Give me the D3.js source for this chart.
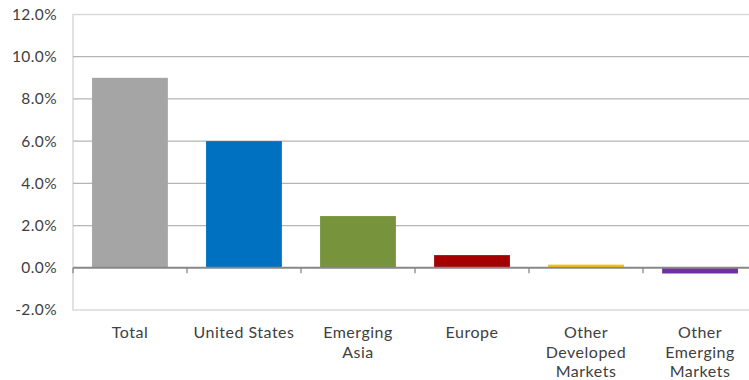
<!DOCTYPE html>
<html>
<head>
<meta charset="utf-8">
<script src="https://cdn.jsdelivr.net/npm/d3@7"></script>
<style>
  html, body { margin: 0; padding: 0; background: #fff; }
  svg { display: block; }
  text { font-family: "Lato", "Open Sans", sans-serif; fill: #404040; }
</style>
</head>
<body>
<svg id="chart" width="749" height="380"></svg>
<script>
// Contribution by region (percent)
const categories = ["Total", "United States", "Emerging Asia", "Europe", "Other Developed Markets", "Other Emerging Markets"];
const labelLines = [["Total"], ["United States"], ["Emerging", "Asia"], ["Europe"], ["Other", "Developed", "Markets"], ["Other", "Emerging", "Markets"]];
const values = [9.0, 6.0, 2.45, 0.6, 0.15, -0.27];
const colors = ["#a5a5a5", "#0070c0", "#77933c", "#a50000", "#ffc000", "#7030a0"];
const yTicks = [-2, 0, 2, 4, 6, 8, 10, 12];

const svg = d3.select("#chart");
const plotLeft = 73, plotRight = 757, plotTop = 14.5, plotBottom = 310;

const x = d3.scaleBand().domain(categories).range([plotLeft, plotRight]).paddingInner(0.335).paddingOuter(0.167);
const band = d3.scaleBand().domain(categories).range([plotLeft, plotRight]);
const y = d3.scaleLinear().domain([-2, 12]).range([plotBottom, plotTop]);

// plot area border
svg.append("rect")
  .attr("x", plotLeft).attr("y", plotTop)
  .attr("width", plotRight - plotLeft).attr("height", plotBottom - plotTop)
  .attr("fill", "none").attr("stroke", "#d9d9d9").attr("stroke-width", 1.5);

// horizontal gridlines
svg.append("g").selectAll("line")
  .data(yTicks.filter(t => t !== 0 && t !== 12 && t !== -2))
  .join("line")
  .attr("x1", plotLeft).attr("x2", plotRight)
  .attr("y1", d => y(d)).attr("y2", d => y(d))
  .attr("stroke", "#b5b5b5").attr("stroke-width", 1.3);

// y axis labels
const pct = d => (d < 0 ? "-" : "") + Math.abs(d).toFixed(1) + "%";
const yAxis = d3.axisLeft(y).tickValues(yTicks).tickFormat(pct).tickSize(0).tickPadding(16);
const yg = svg.append("g").attr("transform", `translate(${plotLeft},0)`).call(yAxis);
yg.select(".domain").remove();
yg.selectAll("text")
  .attr("font-size", 15.5)
  .attr("letter-spacing", 0.4)
  .style("fill", "#404040")
  .attr("font-family", "Lato, sans-serif");

// bars
svg.append("g").selectAll("rect")
  .data(values)
  .join("rect")
  .attr("x", (d, i) => x(categories[i]))
  .attr("width", x.bandwidth())
  .attr("y", d => y(Math.max(0, d)))
  .attr("height", d => Math.abs(y(d) - y(0)))
  .attr("fill", (d, i) => colors[i]);

// zero axis line with category separator ticks
svg.append("line")
  .attr("x1", plotLeft).attr("x2", plotRight)
  .attr("y1", y(0)).attr("y2", y(0))
  .attr("stroke", "#878787").attr("stroke-width", 2);
svg.append("g").selectAll("line")
  .data(categories)
  .join("line")
  .attr("x1", d => band(d)).attr("x2", d => band(d))
  .attr("y1", y(0)).attr("y2", y(0) + 5.5)
  .attr("stroke", "#878787").attr("stroke-width", 1.3);

// category labels
const lg = svg.append("g");
categories.forEach((c, i) => {
  const cx = band(c) + band.bandwidth() / 2;
  const t = lg.append("text")
    .attr("x", cx)
    .attr("y", 338)
    .attr("text-anchor", "middle")
    .attr("font-size", 16)
    .attr("letter-spacing", 0.5);
  labelLines[i].forEach((line, j) => {
    t.append("tspan")
      .attr("x", cx)
      .attr("dy", j === 0 ? 0 : 19.5)
      .text(line);
  });
});
</script>
</body>
</html>
